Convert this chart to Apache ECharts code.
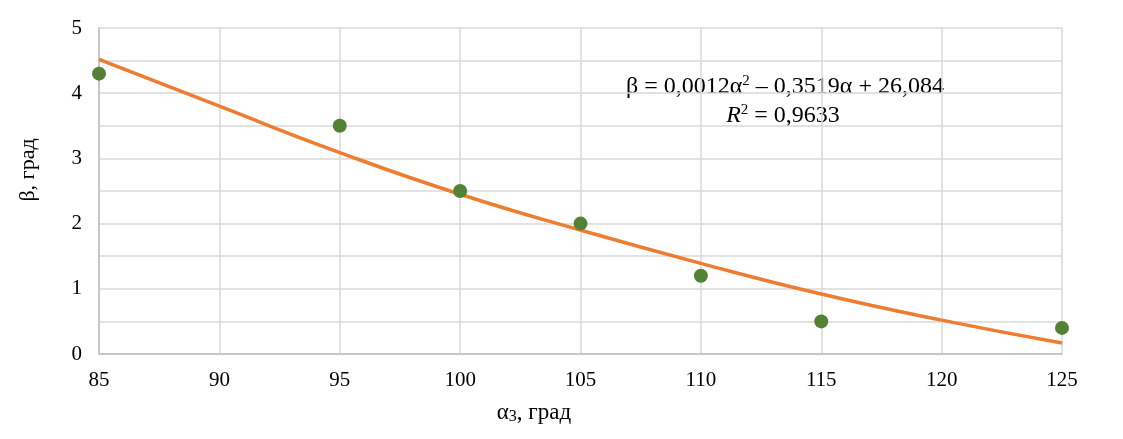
<html style="width: 100%; height: 100%">
<head>
    <meta charset="utf-8">
    <script src="https://cdn.jsdelivr.net/npm/echarts@6/dist/echarts.min.js"></script>
</head>
<body style="width: 100%; height: 100%; margin: 0; background: #fff">
<div id="container" style="width: 100%; height: 100%"></div>

<script type="text/javascript">
    // measured points
    var alphaPts = [85, 95, 100, 105, 110, 115, 125];
    var betaPts = [4.3, 3.5, 2.5, 2.0, 1.2, 0.5, 0.4];
    // polynomial trend line
    var trendX = [85, 90, 95, 100, 105, 110, 115, 120, 125];
    var trendY = [4.52, 3.80, 3.09, 2.45, 1.90, 1.39, 0.92, 0.52, 0.17];
    var xTicks = [85, 90, 95, 100, 105, 110, 115, 120, 125];
    var yTicks = [0, 1, 2, 3, 4, 5];

    var font = '"Liberation Serif", "Times New Roman", serif';
    var dom = document.getElementById("container");
    var myChart = echarts.init(dom);

    function pairs(xs, ys) {
        return xs.map(function (x, i) { return [x, ys[i]]; });
    }

    var option = {
        animation: false,
        grid: {left: 99, right: 61, top: 28, bottom: 85},
        xAxis: {
            type: 'value',
            min: xTicks[0],
            max: xTicks[xTicks.length - 1],
            interval: 5,
            axisLine: {lineStyle: {color: '#bfbfbf', width: 1.5}},
            axisTick: {show: false},
            axisLabel: {color: '#000', fontFamily: font, fontSize: 21, margin: 16},
            splitLine: {lineStyle: {color: '#d9d9d9', width: 1.5}}
        },
        yAxis: {
            type: 'value',
            min: 0,
            max: yTicks[yTicks.length - 1],
            interval: 0.5,
            axisLine: {show: true, lineStyle: {color: '#bfbfbf', width: 1.5}},
            axisTick: {show: false},
            axisLabel: {
                color: '#000', fontFamily: font, fontSize: 21, margin: 17,
                formatter: function (v) {
                    return yTicks.indexOf(v) >= 0 ? String(v) : '';
                }
            },
            splitLine: {lineStyle: {color: '#d9d9d9', width: 1.5}}
        },
        graphic: [
            {
                type: 'text',
                x: 28, y: 170,
                rotation: Math.PI / 2,
                style: {
                    text: 'β, град',
                    font: '22px ' + font,
                    fill: '#000',
                    textAlign: 'center',
                    textVerticalAlign: 'middle'
                }
            },
            {
                type: 'text',
                x: 534, y: 413,
                style: {
                    text: '{a|α}{s|3}{a|, град}',
                    textAlign: 'center',
                    textVerticalAlign: 'middle',
                    fill: '#000',
                    rich: {
                        a: {fontFamily: font, fontSize: 23},
                        s: {fontFamily: font, fontSize: 16, padding: [7, 0, 0, 0]}
                    }
                }
            },
            {
                type: 'text',
                x: 785, y: 87,
                style: {
                    text: '{a|β = 0,0012α}{p|2}{a| – 0,3519α + 26,084}',
                    textAlign: 'center',
                    textVerticalAlign: 'middle',
                    fill: '#000',
                    rich: {
                        a: {fontFamily: font, fontSize: 24},
                        p: {fontFamily: font, fontSize: 15, padding: [0, 0, 11, 0]}
                    }
                }
            },
            {
                type: 'text',
                x: 783, y: 116,
                style: {
                    text: '{i|R}{p|2}{a| = 0,9633}',
                    textAlign: 'center',
                    textVerticalAlign: 'middle',
                    fill: '#000',
                    rich: {
                        a: {fontFamily: font, fontSize: 24},
                        i: {fontFamily: font, fontSize: 24, fontStyle: 'italic'},
                        p: {fontFamily: font, fontSize: 15, padding: [0, 0, 11, 0]}
                    }
                }
            }
        ],
        series: [
            {
                name: 'trend',
                type: 'line',
                smooth: true,
                showSymbol: false,
                data: pairs(trendX, trendY),
                lineStyle: {color: '#ed7d31', width: 3.5},
                z: 2
            },
            {
                name: 'β',
                type: 'scatter',
                symbolSize: 14,
                data: pairs(alphaPts, betaPts),
                itemStyle: {color: '#548235', opacity: 1},
                z: 3
            }
        ]
    };
    myChart.setOption(option);
</script>
</body>
</html>
